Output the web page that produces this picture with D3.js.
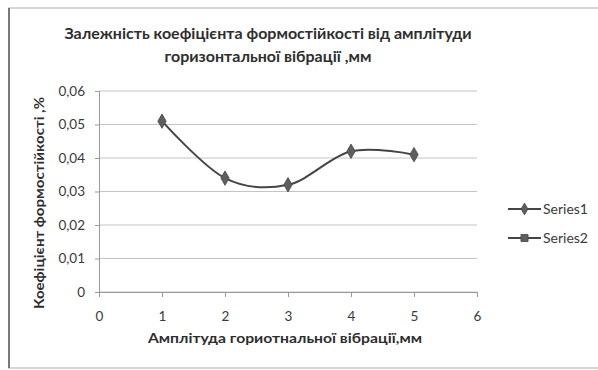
<!DOCTYPE html>
<html>
<head>
<meta charset="utf-8">
<script src="https://cdn.jsdelivr.net/npm/d3@7"></script>
<style>
  body { margin: 0; background: #fff; }
  svg { display: block; }
</style>
</head>
<body>
<script>
const width = 598;
const height = 370;

// data
const amplitudes = [1, 2, 3, 4, 5];
const series1 = [0.051, 0.034, 0.032, 0.042, 0.041];
const series2 = [];
const xTicks = [0, 1, 2, 3, 4, 5, 6];
const yTicks = [0, 0.01, 0.02, 0.03, 0.04, 0.05, 0.06];
const seriesNames = ["Series1", "Series2"];
const titleLines = ["Залежність коефіцієнта формостійкості від амплітуди", "горизонтальної вібрації ,мм"];
const xLabel = "Амплітуда гориотнальної вібрації,мм";
const yLabel = "Коефіцієнт формостійкості ,%";

const font = "Lato, 'Open Sans', sans-serif";
const textCol = "#3a3a3a";

const svg = d3.select("body").append("svg")
  .attr("width", width)
  .attr("height", height);

svg.append("rect")
  .attr("width", width).attr("height", height)
  .attr("fill", "#fff");

// chart frame
svg.append("rect")
  .attr("x", 9).attr("y", 8)
  .attr("width", 600).attr("height", 360)
  .attr("fill", "none")
  .attr("stroke", "#bdbdbd")
  .attr("stroke-width", 1.2);
svg.append("line")
  .attr("x1", 9).attr("x2", 9).attr("y1", 8).attr("y2", 368)
  .attr("stroke", "#5a5a5a").attr("stroke-width", 1.5);

const x = d3.scaleLinear().domain([0, 6]).range([99, 477]);
const y = d3.scaleLinear().domain([0, 0.06]).range([292, 91]);

// gridlines
svg.append("g")
  .selectAll("line")
  .data(yTicks)
  .join("line")
    .attr("x1", x(0)).attr("x2", x(6))
    .attr("y1", d => y(d)).attr("y2", d => y(d))
    .attr("stroke", "#c4c4c4")
    .attr("stroke-width", 1);

const fmt = d => d === 0 ? "0" : d3.format(".2f")(d).replace(".", ",");

// y axis
const yAxis = svg.append("g")
  .attr("transform", `translate(${x(0)},0)`)
  .call(d3.axisLeft(y).tickValues(yTicks).tickFormat(fmt).tickSize(4).tickPadding(10));
yAxis.select(".domain").attr("stroke", "#9a9a9a");
yAxis.selectAll(".tick line").attr("stroke", "#9a9a9a");
yAxis.selectAll("text")
  .attr("fill", textCol)
  .style("font-family", font)
  .style("font-size", "13.5px");

// x axis
const xAxis = svg.append("g")
  .attr("transform", `translate(0,${y(0)})`)
  .call(d3.axisBottom(x).tickValues(xTicks).tickFormat(d3.format("d")).tickSize(5).tickPadding(14));
xAxis.select(".domain").attr("stroke", "#9a9a9a");
xAxis.selectAll(".tick line").attr("stroke", "#9a9a9a");
xAxis.selectAll("text")
  .attr("fill", textCol)
  .style("font-family", font)
  .style("font-size", "13.5px");

// series line, smoothed like the spreadsheet
const pts = amplitudes.map((a, i) => [a, series1[i]]);
const line = d3.line()
  .x(d => x(d[0]))
  .y(d => y(d[1]))
  .curve(d3.curveCardinal.tension(0));

svg.append("path")
  .datum(pts)
  .attr("d", line)
  .attr("fill", "none")
  .attr("stroke", "#454545")
  .attr("stroke-width", 2);

svg.append("g")
  .selectAll("path")
  .data(pts)
  .join("path")
    .attr("transform", d => `translate(${x(d[0])},${y(d[1])})`)
    .attr("d", d3.symbol(d3.symbolDiamond, 60)())
    .attr("fill", "#5e5e5e")
    .attr("stroke", "#454545")
    .attr("stroke-width", 0.8);

// legend
const legend = svg.append("g")
  .selectAll("g")
  .data(seriesNames)
  .join("g")
    .attr("transform", (d, i) => `translate(508,${209 + i * 29})`);
legend.append("line")
  .attr("x1", 0).attr("x2", 33)
  .attr("stroke", "#454545").attr("stroke-width", 2);
legend.append("path")
  .attr("transform", "translate(16.5,0)")
  .attr("d", (d, i) => d3.symbol(i === 0 ? d3.symbolDiamond : d3.symbolSquare, i === 0 ? 40 : 50)())
  .attr("fill", "#5e5e5e")
  .attr("stroke", "#454545")
  .attr("stroke-width", 0.8);
legend.append("text")
  .attr("x", 35)
  .attr("dy", "0.35em")
  .attr("fill", textCol)
  .style("font-family", font)
  .style("font-size", "14px")
  .text(d => d);

// title
svg.append("g")
  .selectAll("text")
  .data(titleLines)
  .join("text")
    .attr("x", 268)
    .attr("y", (d, i) => 39 + i * 23)
    .attr("text-anchor", "middle")
    .attr("fill", "#2e2e2e")
    .style("font-family", font)
    .style("font-size", "16px")
    .style("font-weight", "bold")
    .text(d => d);

// axis titles
svg.append("text")
  .attr("x", 285)
  .attr("y", 343)
  .attr("text-anchor", "middle")
  .attr("fill", "#2e2e2e")
  .attr("textLength", 274)
  .attr("lengthAdjust", "spacingAndGlyphs")
  .style("font-family", font)
  .style("font-size", "13.5px")
  .style("font-weight", "bold")
  .text(xLabel);

svg.append("text")
  .attr("transform", "translate(44,203) rotate(-90)")
  .attr("text-anchor", "middle")
  .attr("fill", "#2e2e2e")
  .attr("textLength", 212)
  .attr("lengthAdjust", "spacingAndGlyphs")
  .style("font-family", font)
  .style("font-size", "13.5px")
  .style("font-weight", "bold")
  .text(yLabel);
</script>
</body>
</html>
